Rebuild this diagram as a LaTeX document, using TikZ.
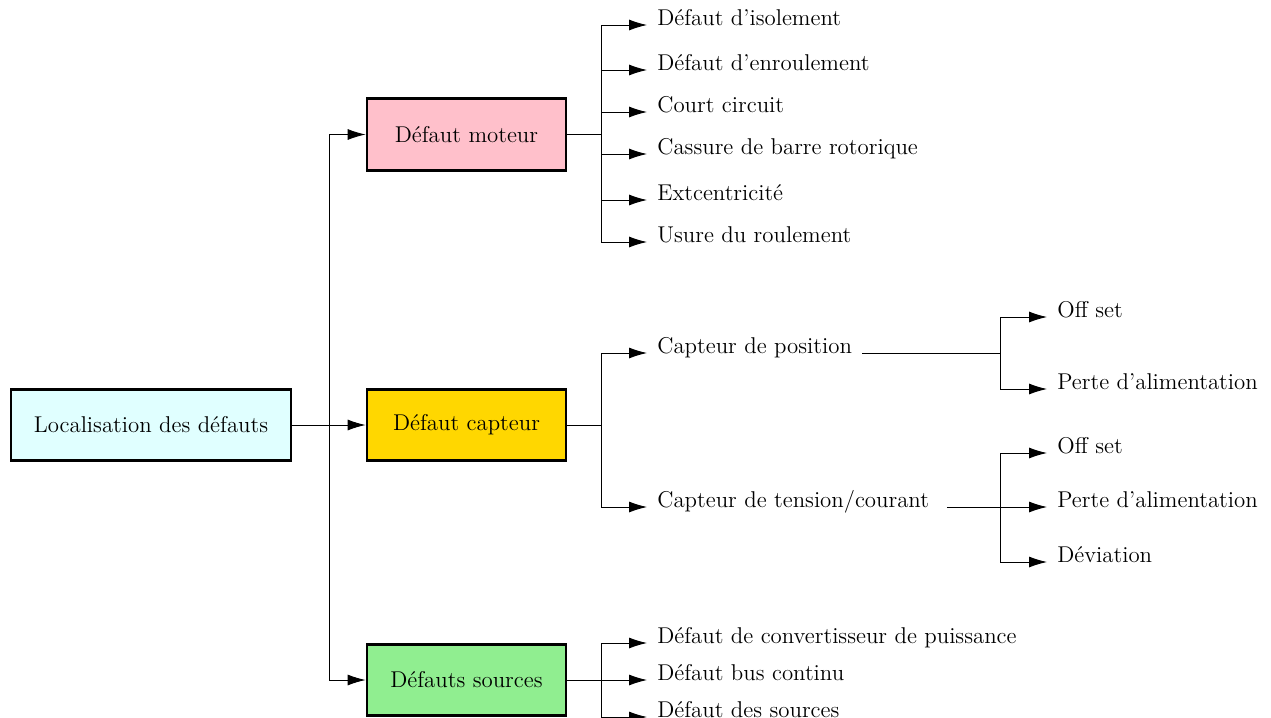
\documentclass[tikz,border=0pt]{standalone}
\usetikzlibrary{arrows.meta}
\definecolor{lcyan}{HTML}{E0FFFF}
\definecolor{lpink}{HTML}{FFC0CB}
\definecolor{lgold}{HTML}{FFD700}
\definecolor{lgreen}{HTML}{90EE90}
\begin{document}
\begin{tikzpicture}[x=0.02cm,y=-0.02cm,
  font=\fontsize{13}{15.5}\selectfont,
  box/.style={draw, line width=1.6pt, minimum width=3.98cm, minimum height=1.43cm, inner sep=2pt},
  lbl/.style={anchor=base west, inner xsep=0.2cm, inner ysep=2pt},
  conn/.style={line width=0.5pt},
  arr/.style={conn, -{Latex[length=0.36cm,width=0.22cm]}}]
\useasboundingbox (0,0) rectangle (1271,717);

% main boxes
\node[box, fill=lcyan, minimum width=5.6cm] (loc) at (151,425) {Localisation des défauts};
\node[box, fill=lpink] (mot) at (466.5,134.5) {Défaut moteur};
\node[box, fill=lgold] (cap) at (466.5,425) {Défaut capteur};
\node[box, fill=lgreen] (src) at (466.5,680) {Défauts sources};

% first level connectors
\coordinate (j0) at (329,425);
\draw[conn] (loc.east) -- (j0);
\draw[arr] (j0) |- (mot.west);
\draw[arr] (j0) -- (cap.west);
\draw[arr] (j0) |- (src.west);

% moteur branch
\node[lbl] (m1) at (647,25) {Défaut d'isolement};
\node[lbl] (m2) at (647,70) {Défaut d'enroulement};
\node[lbl] (m3) at (647,112) {Court circuit};
\node[lbl] (m4) at (647,154) {Cassure de barre rotorique};
\node[lbl] (m5) at (647,200) {Extcentricité};
\node[lbl] (m6) at (647,242) {Usure du roulement};
\coordinate (j1) at (601,134.5);
\draw[conn] (mot.east) -- (j1);
\foreach \n in {m1,m2,m3,m4,m5,m6}{\draw[arr] (j1) |- (\n.base west);}

% capteur branch
\node[lbl] (c1) at (647,353) {Capteur de position};
\node[lbl] (c2) at (647,507) {Capteur de tension/courant};
\coordinate (j2) at (601,425);
\draw[conn] (cap.east) -- (j2);
\draw[arr] (j2) |- (c1.base west);
\draw[arr] (j2) |- (c2.base west);

\node[lbl] (p1) at (1047,317) {Off set};
\node[lbl] (p2) at (1047,389) {Perte d'alimentation};
\coordinate (j3) at (1000,353);
\draw[conn] (c1.base east) -- (j3);
\draw[arr] (j3) |- (p1.base west);
\draw[arr] (j3) |- (p2.base west);

\node[lbl] (t1) at (1047,453) {Off set};
\node[lbl] (t2) at (1047,507) {Perte d'alimentation};
\node[lbl] (t3) at (1047,562) {Déviation};
\coordinate (j4) at (1000,507);
\draw[arr] ([xshift=0.15cm]c2.base east) -- (t2.base west);
\draw[arr] (j4) |- (t1.base west);
\draw[arr] (j4) |- (t3.base west);

% sources branch
\node[lbl] (s1) at (647,643) {Défaut de convertisseur de puissance};
\node[lbl] (s2) at (647,680) {Défaut bus continu};
\node[lbl] (s3) at (647,717) {Défaut des sources};
\coordinate (j5) at (601,680);
\draw[arr] (src.east) -- (s2.base west);
\draw[arr] (j5) |- (s1.base west);
\draw[arr] (j5) |- (s3.base west);
\end{tikzpicture}
\end{document}
